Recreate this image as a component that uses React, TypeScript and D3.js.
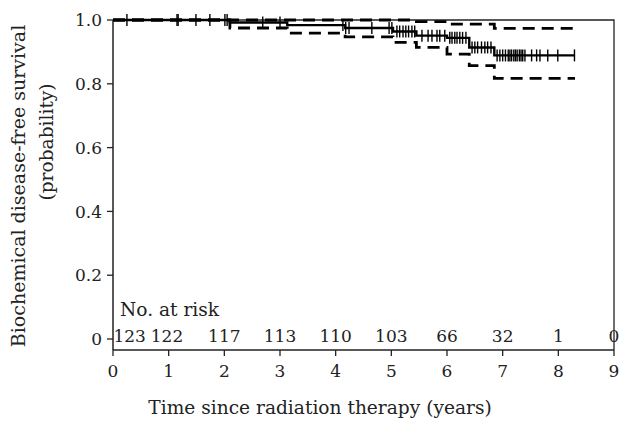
import React from 'react'
import * as d3 from 'd3'

// Kaplan-Meier estimate
const stepTimes = [0, 2.1, 3.13, 4.17, 5.03, 5.45, 6.0, 6.4, 6.85, 8.3]
const survival = [1, 0.992, 0.984, 0.975, 0.964, 0.951, 0.944, 0.914, 0.889, 0.889]
const lowerCI = [1, 0.975, 0.959, 0.947, 0.93, 0.914, 0.893, 0.857, 0.817, 0.817]
const upperCI = [1, 1, 1, 1, 1, 0.995, 0.987, 0.987, 0.974, 0.974]

const censorTimes = [
  0.25, 1.15, 1.17, 1.49, 1.74, 2.01, 2.05, 2.69, 3.0,
  4.13, 4.18, 4.24, 4.65, 4.96, 5.01,
  5.1, 5.15, 5.21, 5.26, 5.31, 5.37, 5.42,
  5.55, 5.66, 5.73, 5.82, 5.87, 5.96,
  6.05, 6.09, 6.14, 6.18, 6.23, 6.28, 6.34,
  6.45, 6.5, 6.55, 6.62, 6.68, 6.73, 6.79,
  6.9, 6.95, 7.0, 7.05, 7.1, 7.13, 7.16, 7.2, 7.23, 7.26, 7.3, 7.33, 7.36, 7.4,
  7.52, 7.61, 7.67, 7.81, 7.99, 8.29,
]

const riskTimes = [0.3, 0.97, 2, 3, 4, 5, 6, 7, 8, 9]
const atRisk = [123, 122, 117, 113, 110, 103, 66, 32, 1, 0]

const xTicks = [0, 1, 2, 3, 4, 5, 6, 7, 8, 9]
const yTicks = [0, 0.2, 0.4, 0.6, 0.8, 1.0]

const W = 620
const H = 421
const font = '"DejaVu Serif", "Liberation Serif", serif'
const fs = 17
const fsLabel = 18.6

export default function App() {
  const x = d3.scaleLinear().domain([0, 9]).range([113, 614])
  const y = d3.scaleLinear().domain([0, 1]).range([339, 20])
  const axisY = 350

  const step = d3.line<[number, number]>()
    .x(d => x(d[0]))
    .y(d => y(d[1]))
    .curve(d3.curveStepAfter)

  const pts = (vals: number[]) => stepTimes.map((t, i) => [t, vals[i]] as [number, number])

  const survAt = (t: number) => {
    const i = d3.bisectRight(stepTimes, t) - 1
    return survival[Math.max(0, i)]
  }

  return (
    <svg width={W} height={H} style={{ position: 'absolute', left: 0, top: 0 }} fontFamily={font}>
      <rect width={W} height={H} fill="#fff" />
      {/* frame */}
      <path d={`M${x(0)},${y(1)}H${x(9)}V${axisY}`} fill="none" stroke="#222" strokeWidth={1.3} />
      <line x1={x(0)} x2={x(0)} y1={y(1)} y2={axisY} stroke="#222" strokeWidth={1.5} />
      <line x1={x(0)} x2={x(9)} y1={axisY} y2={axisY} stroke="#222" strokeWidth={1.5} />

      {/* y axis */}
      {yTicks.map(v => (
        <g key={v}>
          <line x1={x(0) - 6} x2={x(0)} y1={y(v)} y2={y(v)} stroke="#222" strokeWidth={1.3} />
          <text x={x(0) - 11} y={y(v)} dy="0.36em" textAnchor="end" fontSize={fs} fill="#222">
            {v === 0 ? '0' : v.toFixed(1)}
          </text>
        </g>
      ))}
      {/* x axis */}
      {xTicks.map(v => (
        <g key={v}>
          <line x1={x(v)} x2={x(v)} y1={axisY} y2={axisY + 6} stroke="#222" strokeWidth={1.3} />
          <text x={x(v)} y={377} textAnchor="middle" fontSize={fs} fill="#222">{v}</text>
        </g>
      ))}

      {/* confidence limits */}
      <path d={step(pts(upperCI)) || ''} fill="none" stroke="#000" strokeWidth={2.8} strokeDasharray="12,7" />
      <path d={step(pts(lowerCI)) || ''} fill="none" stroke="#000" strokeWidth={2.8} strokeDasharray="12,7" />
      {/* survival curve */}
      <path d={step(pts(survival)) || ''} fill="none" stroke="#000" strokeWidth={2.4} />
      {censorTimes.map((t, i) => (
        <line key={i} x1={x(t)} x2={x(t)} y1={y(survAt(t)) - 6} y2={y(survAt(t)) + 6}
          stroke="#000" strokeWidth={1.4} />
      ))}

      {/* numbers at risk */}
      <text x={120} y={316} fontSize={fsLabel} fill="#222">No. at risk</text>
      {atRisk.map((n, i) => (
        <text key={i} x={x(riskTimes[i])} y={342} textAnchor="middle" fontSize={fs} fill="#222">{n}</text>
      ))}

      {/* titles */}
      <text x={320} y={414} textAnchor="middle" fontSize={fsLabel} fill="#222">
        Time since radiation therapy (years)
      </text>
      <text transform={`translate(25,186) rotate(-90)`} textAnchor="middle" fontSize={19} fill="#222">
        Biochemical disease-free survival
      </text>
      <text transform={`translate(53,142) rotate(-90)`} textAnchor="middle" fontSize={fsLabel} fill="#222">
        (probability)
      </text>
    </svg>
  )
}
